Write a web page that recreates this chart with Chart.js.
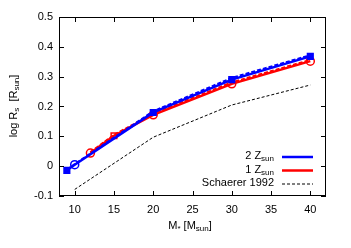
<!DOCTYPE html>
<html><head><meta charset="utf-8">
<script src="https://cdn.jsdelivr.net/npm/chart.js@4"></script>
<style>html,body{margin:0;padding:0;background:#fff}#w{width:351px;height:248px}</style>
</head><body><div id="w"><canvas id="c" width="351" height="248"></canvas></div>
<script>
// Data
const xTicks = [10, 15, 20, 25, 30, 35, 40];
const yTicks = [-0.1, 0, 0.1, 0.2, 0.3, 0.4, 0.5];
const blueMass = [9, 10, 20, 30, 40];
const blueLogR = [-0.014, 0.005, 0.18, 0.29, 0.368];
const blueDashLogR = [-0.012, 0.007, 0.184, 0.296, 0.372];
const redMass = [12, 15, 20, 30, 40];
const redLogR = [0.044, 0.102, 0.172, 0.276, 0.352];
const redDashLogR = [0.047, 0.105, 0.176, 0.281, 0.356];
const schMass = [10, 20, 30, 40];
const schLogR = [-0.078, 0.097, 0.205, 0.272];
const legendLabels = [["2 Z", "sun"], ["1 Z", "sun"], ["Schaerer 1992", ""]];

const BLUE = '#0000ff', RED = '#ff0000';
const FONT = '"Liberation Sans", Arial, sans-serif';
const pts = (xs, ys) => xs.map((x, i) => ({x, y: ys[i]}));

const datasets = [
  {label: legendLabels[0].join(''), data: pts(blueMass, blueLogR), borderColor: BLUE, backgroundColor: [BLUE, 'rgba(0,0,0,0)', BLUE, BLUE, BLUE],
   pointBorderColor: BLUE, borderWidth: 2.5, pointStyle: ['rect', 'circle', 'rect', 'rect', 'rect'], pointRadius: 4, pointBorderWidth: 1.5},
  {label: 'b2', data: pts(blueMass, blueDashLogR), borderColor: BLUE, borderDash: [4, 2], borderWidth: 2, pointRadius: 0},
  {label: legendLabels[1].join(''), data: pts(redMass, redLogR), borderColor: RED, backgroundColor: 'rgba(0,0,0,0)',
   pointBorderColor: RED, borderWidth: 2.5, pointStyle: ['circle', 'rect', 'circle', 'circle', 'circle'], pointRadius: 4, pointBorderWidth: 1.5},
  {label: 'r2', data: pts(redMass, redDashLogR), borderColor: RED, borderDash: [4, 2], borderWidth: 2, pointRadius: 0},
  {label: legendLabels[2][0], data: pts(schMass, schLogR), borderColor: '#000', borderDash: [3, 2], borderWidth: 1, pointRadius: 0}
];

function drawSub(ctx, parts, x, y, align) {
  // parts: [main, sub]; draws main text followed by subscript
  const f1 = '11px ' + FONT, f2 = '8px ' + FONT;
  ctx.font = f1; const w1 = ctx.measureText(parts[0]).width;
  ctx.font = f2; const w2 = parts[1] ? ctx.measureText(parts[1]).width : 0;
  let sx = align === 'right' ? x - w1 - w2 : (align === 'center' ? x - (w1 + w2) / 2 : x);
  ctx.textAlign = 'left'; ctx.textBaseline = 'middle';
  ctx.font = f1; ctx.fillText(parts[0], sx, y);
  if (parts[1]) { ctx.font = f2; ctx.fillText(parts[1], sx + w1, y + 3); }
}
function drawSeq(ctx, segs, x, y) {
  // segs: [[text, isSub]], centered at x
  let tot = 0; const ws = [];
  segs.forEach(s => { ctx.font = (s[1] ? '8px ' : '11px ') + FONT; const w = ctx.measureText(s[0]).width; ws.push(w); tot += w; });
  let cx = x - tot / 2;
  ctx.textAlign = 'left'; ctx.textBaseline = 'middle';
  segs.forEach((s, i) => { ctx.font = (s[1] ? '8px ' : '11px ') + FONT; ctx.fillText(s[0], cx, y + (s[1] ? 3 : 0)); cx += ws[i]; });
}

const deco = {
  id: 'deco',
  afterDraw(chart) {
    const {ctx, chartArea: a, scales: {x, y}} = chart;
    ctx.save();
    ctx.strokeStyle = '#000'; ctx.lineWidth = 1;
    ctx.strokeRect(a.left + 0.5, a.top + 0.5, a.right - a.left - 1, a.bottom - a.top - 1);
    const tl = 5;
    ctx.beginPath();
    xTicks.forEach(v => { const px = Math.round(x.getPixelForValue(v)) + 0.5;
      ctx.moveTo(px, a.bottom); ctx.lineTo(px, a.bottom - tl); ctx.moveTo(px, a.top); ctx.lineTo(px, a.top + tl); });
    yTicks.forEach(v => { const py = Math.round(y.getPixelForValue(v)) + 0.5;
      ctx.moveTo(a.left, py); ctx.lineTo(a.left + tl, py); ctx.moveTo(a.right, py); ctx.lineTo(a.right - tl, py); });
    ctx.stroke();
    ctx.fillStyle = '#000';
    // x title
    drawSeq(ctx, [['M', false], ['*', true], [' [M', false], ['sun', true], [']', false]], 190, 226);
    // y title rotated
    ctx.save(); ctx.translate(14, 106); ctx.rotate(-Math.PI / 2);
    drawSeq(ctx, [['log R', false], ['s', true], ['  [R', false], ['sun', true], [']', false]], 0, 0);
    ctx.restore();
    // legend
    const rows = [{c: BLUE, w: 2.5, d: []}, {c: RED, w: 2.5, d: []}, {c: '#000', w: 1, d: [3, 2]}];
    const ys = [157, 170.5, 184];
    rows.forEach((r, i) => {
      ctx.fillStyle = '#000';
      drawSub(ctx, legendLabels[i], 274, ys[i] - 1, 'right');
      ctx.beginPath(); ctx.strokeStyle = r.c; ctx.lineWidth = r.w; ctx.setLineDash(r.d);
      ctx.moveTo(282, ys[i]); ctx.lineTo(313, ys[i]); ctx.stroke(); ctx.setLineDash([]);
    });
    ctx.restore();
  }
};

new Chart(document.getElementById('c'), {
  type: 'line',
  data: {datasets},
  options: {
    responsive: false, animation: false, devicePixelRatio: 1,
    layout: {padding: {left: 0, right: 25, top: 17, bottom: 0}},
    plugins: {legend: {display: false}, tooltip: {enabled: false}},
    scales: {
      x: {type: 'linear', min: 8, max: 42,
        afterBuildTicks: s => { s.ticks = xTicks.map(v => ({value: v})); },
        afterFit: s => { s.height = 52; },
        grid: {display: false, drawTicks: false}, border: {display: false},
        ticks: {padding: 7, color: '#000', font: {family: FONT, size: 11}, maxRotation: 0, autoSkip: false}},
      y: {type: 'linear', min: -0.1, max: 0.5,
        afterBuildTicks: s => { s.ticks = yTicks.map(v => ({value: v})); },
        afterFit: s => { s.width = 59; },
        grid: {display: false, drawTicks: false}, border: {display: false},
        ticks: {padding: 6, color: '#000', font: {family: FONT, size: 11}, autoSkip: false,
          callback: v => (Math.abs(v) < 1e-9 ? '0' : String(Math.round(v * 10) / 10))}}
    }
  },
  plugins: [deco]
});
</script>
</body></html>
